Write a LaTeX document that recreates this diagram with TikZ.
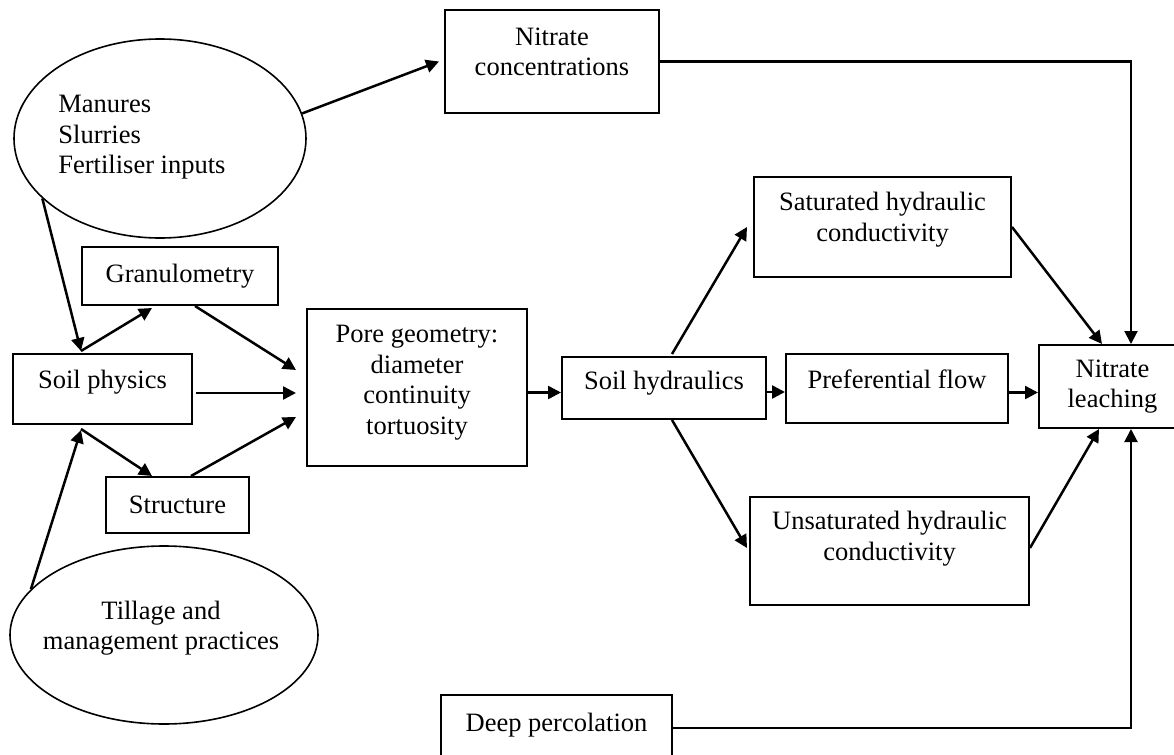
\documentclass[tikz,border=0pt]{standalone}
\usepackage{fontspec}
\setmainfont{Liberation Serif}
\usetikzlibrary{arrows.meta,shapes.geometric}
\newcommand{\liftby}[2]{\raisebox{#1}[\height][\depth]{\begin{tabular}{@{}c@{}}#2\end{tabular}}}
\begin{document}
\begin{tikzpicture}[x=0.5pt,y=-0.5pt,
  font=\fontsize{13.25pt}{15.25pt}\selectfont,
  box/.style={draw, rectangle, line width=1pt, inner sep=0pt},
  oval/.style={draw, ellipse, line width=0.8pt, inner sep=0pt},
  arr/.style={line width=1.25pt, -{Triangle[length=6.5pt,width=6.5pt]}},
  elbow/.style={line width=1.05pt, -{Triangle[length=6.5pt,width=6.5pt]}}]
\useasboundingbox (0,0) rectangle (1174,755);

% nodes
\node[oval, minimum width=146pt, minimum height=99.5pt] (man) at (160,138.5) {};
\node[anchor=west, align=left, inner sep=0pt] (mant) at (58,137.5) {Manures\\Slurries\\Fertiliser inputs};
\node[box, minimum width=107pt, minimum height=51.5pt] (nc) at (552,61.5) {\liftby{3.5pt}{Nitrate\\concentrations}};
\node[box, minimum width=98pt, minimum height=29pt] (gran) at (180,276) {Granulometry};
\node[box, minimum width=89.5pt, minimum height=35pt] (sp) at (102.5,389) {\liftby{3.5pt}{Soil physics}};
\node[box, minimum width=71.5pt, minimum height=28pt] (str) at (177.5,505) {Structure};
\node[box, minimum width=110pt, minimum height=78.5pt] (pore) at (417,387.5) {\liftby{2.5pt}{Pore geometry:\\diameter\\continuity\\tortuosity}};
\node[box, minimum width=102pt, minimum height=31pt] (sh) at (664,388) {\liftby{2.5pt}{Soil hydraulics}};
\node[box, minimum width=111pt, minimum height=34.5pt] (pf) at (897,388.5) {\liftby{3pt}{Preferential flow}};
\node[box, minimum width=128.5pt, minimum height=50pt] (sat) at (882.5,227) {\liftby{3.5pt}{Saturated hydraulic\\conductivity}};
\node[box, minimum width=139.5pt, minimum height=54pt] (uns) at (889.5,551) {\liftby{6pt}{Unsaturated hydraulic\\conductivity}};
\node[box, minimum width=73.5pt, minimum height=41.5pt] (nl) at (1112.5,386.5) {\liftby{0pt}{Nitrate\\leaching}};
\node[box, minimum width=115.5pt, minimum height=30.5pt] (dp) at (556.5,725.5) {Deep percolation};
\node[oval, minimum width=154pt, minimum height=89pt] (till) at (164,635) {};
\node[align=center, inner sep=0pt] (tillt) at (161,628) {Tillage and\\management practices};

% connectors
\draw[arr] (man.10) -- ([xshift=-2.5pt]nc.west);
\draw[elbow] (nc.east) -| ([xshift=9.25pt]nl.north);
\draw[arr] (man.207) -- ([xshift=-10.75pt,yshift=1pt]sp.north);
\draw[arr] ([xshift=-10.75pt,yshift=1pt]sp.north) -- ([xshift=-14pt,yshift=-1pt]gran.south);
\draw[arr] ([xshift=7.5pt]gran.south) -- ([xshift=-5pt,yshift=8.75pt]pore.west);
\draw[arr] ([xshift=1.5pt,yshift=-2pt]sp.east) -- ([xshift=-5pt,yshift=-2pt]sp.east -| pore.west);
\draw[arr] ([xshift=-10.75pt,yshift=-2pt]sp.south) -- ([xshift=-12.75pt]str.north);
\draw[arr] ([xshift=6.75pt]str.north) -- ([xshift=-5pt,yshift=-14.75pt]pore.west);
\draw[arr] (till.161) -- ([xshift=-10.75pt,yshift=-2.5pt]sp.south);
\draw[arr] ([yshift=-2.5pt]pore.east) -- ([yshift=-2.5pt]pore.east -| sh.west);
\draw[arr] ([xshift=4pt,yshift=1pt]sh.north) -- ([xshift=-3pt]sat.west);
\draw[arr] ([yshift=-2pt]sh.east) -- ([yshift=-2pt]sh.east -| pf.west);
\draw[arr] ([xshift=4pt]sh.south) -- ([xshift=-1pt,yshift=1.5pt]uns.west);
\draw[arr] (sat.east) -- ([xshift=-5.25pt]nl.north);
\draw[arr] ([yshift=-2pt]pf.east) -- ([yshift=-2pt]pf.east -| nl.west);
\draw[arr] ([yshift=1.5pt]uns.east) -- ([xshift=-6.75pt]nl.south);
\draw[elbow] ([yshift=-1.25pt]dp.east) -| ([xshift=9.25pt]nl.south);
\end{tikzpicture}
\end{document}
